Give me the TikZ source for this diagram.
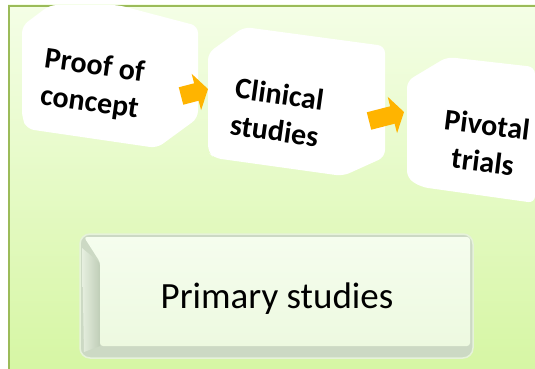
\documentclass[tikz,border=0pt]{standalone}
\usepackage{fontspec}
\setmainfont{Carlito}
\usetikzlibrary{arrows.meta}
\definecolor{framegreen}{HTML}{9BBB59}
\definecolor{bgtop}{HTML}{F4FEE6}
\definecolor{bgbottom}{HTML}{D6F6A4}
\definecolor{arrorange}{HTML}{FFB400}
\definecolor{bevelgray}{HTML}{CCD9C4}
\definecolor{bevellight}{HTML}{E6EFDF}
\definecolor{beveldark}{HTML}{BFCDB7}
\definecolor{facetop}{HTML}{F5FDEE}
\definecolor{facebottom}{HTML}{EDF9E0}
\definecolor{rimgreen}{HTML}{E6F2DA}

\begin{document}
\begin{tikzpicture}[x=1pt,y=-1pt,
  stage/.style={fill=white, rounded corners=7pt},
  stagetext/.style={font=\bfseries\fontsize{30}{37}\selectfont, align=center, inner sep=0pt, rotate=-8},
  chev/.style={draw=arrorange, line width=18pt, -{Triangle[length=12pt,width=37pt]}}]
\useasboundingbox (0,0) rectangle (535,369);
% green panel
\shade[top color=bgtop, bottom color=bgbottom] (8,5) rectangle (535,369);
\draw[framegreen, line width=2.5pt] (9,369) -- (9,6) -- (535,6);
% the three stages
\fill[stage] (22,118) -- (22,26) -- (50,5) -- (118,5) -- (198,26) -- (198,118) -- (157,148) -- (27,129) -- cycle;
\fill[stage] (208,152) -- (208,53) -- (244,27) -- (385,46) -- (385,157) -- (343,176) -- (214,158) -- cycle;
\fill[stage] (407,178) -- (407,81) -- (447,57) -- (535,67) -- (535,203) -- (421,187) -- cycle;
\node[stagetext] (poc) at (92,85) {Proof of\\concept};
\node[stagetext] (clin) at (277,112) {Clinical\\studies};
\node[stagetext, rotate=1] (piv) at (485,143) {Pivotal\\trials};
% arrows between stages
\coordinate (a1) at (181,96);
\coordinate (b1) at (208,89);
\coordinate (a2) at (369,121);
\coordinate (b2) at (404,112);
\draw[chev] (a1) -- (b1);
\draw[chev] (a2) -- (b2);
% primary studies button
\draw[draw=rimgreen, line width=1.5pt, fill=bevelgray, rounded corners=10pt] (80,234) rectangle (473,358);
\shade[left color=bevellight, right color=beveldark] (82,248) -- (100,263) -- (100,346) -- (84,352) -- cycle;
\shade[top color=facetop, bottom color=facebottom, rounded corners=3pt] (84,237) -- (470,237) -- (470,346) -- (100,346) -- (100,262) -- cycle;
\node[font=\fontsize{37}{44}\selectfont, anchor=base] (prim) at (277,308) {Primary studies};
\end{tikzpicture}
\end{document}
